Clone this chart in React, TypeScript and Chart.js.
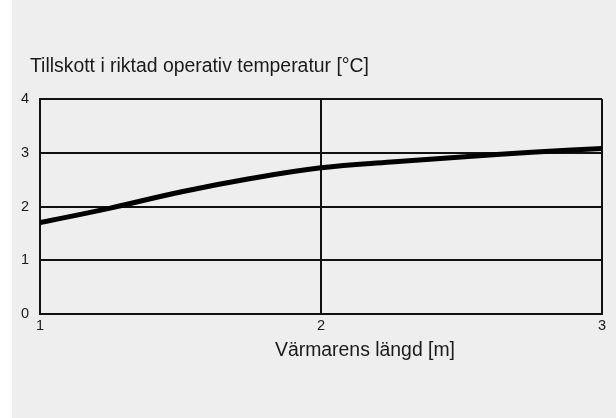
import React, { useEffect, useRef } from "react";
import { Chart, registerables } from "chart.js";

Chart.register(...registerables);

const chartTitle = "Tillskott i riktad operativ temperatur [°C]";
const xAxisTitle = "Värmarens längd [m]";
const lengths = [1, 1.25, 1.5, 1.75, 2, 2.25, 2.5, 2.75, 3];
const tempRise = [1.7, 1.97, 2.27, 2.52, 2.72, 2.83, 2.92, 3.01, 3.08];

const FONT = "'Liberation Sans', Arial, Helvetica, sans-serif";

const titlesPlugin = {
  id: "customTitles",
  afterDraw(chart: any) {
    const { ctx } = chart;
    ctx.save();
    ctx.fillStyle = "#1a1a1a";
    ctx.font = `19.4px ${FONT}`;
    ctx.textBaseline = "alphabetic";
    ctx.textAlign = "left";
    ctx.fillText(chartTitle, 18, 72);
    ctx.textAlign = "center";
    ctx.fillText(xAxisTitle, 353, 356);
    ctx.restore();
  },
};

export default function App() {
  const ref = useRef<HTMLCanvasElement>(null);
  useEffect(() => {
    if (!ref.current) return;
    const chart = new Chart(ref.current, {
      type: "line",
      data: {
        datasets: [
          {
            data: lengths.map((x, i) => ({ x, y: tempRise[i] })),
            borderColor: "#000",
            borderWidth: 5,
            pointRadius: 0,
            tension: 0.4,
            fill: false,
          },
        ],
      },
      options: {
        animation: false,
        responsive: false,
        layout: { padding: { top: 99, left: 0, right: 14, bottom: 74 } },
        plugins: { legend: { display: false }, title: { display: false }, tooltip: { enabled: false } },
        scales: {
          x: {
            type: "linear",
            min: 1,
            max: 3,
            afterFit: (scale: any) => {
              scale.height = 30;
            },
            ticks: { stepSize: 1, color: "#1a1a1a", font: { family: FONT, size: 14.5 }, padding: 3, maxRotation: 0 },
            grid: { color: "#111", lineWidth: 2, drawTicks: false },
            border: { color: "#111", width: 2 },
          },
          y: {
            min: 0,
            max: 4,
            afterFit: (scale: any) => {
              scale.width = 28;
            },
            ticks: { stepSize: 1, color: "#1a1a1a", font: { family: FONT, size: 14.5 }, padding: 11 },
            grid: { color: "#111", lineWidth: 2, drawTicks: false },
            border: { color: "#111", width: 2 },
          },
        },
      },
      plugins: [titlesPlugin],
    });
    return () => chart.destroy();
  }, []);
  return (
    <div style={{ position: "fixed", left: 0, top: 0, width: 616, height: 418, background: "#fff" }}>
      <div style={{ position: "absolute", left: 12, top: 0, width: 604, height: 418, background: "#eeeeee" }}>
        <canvas ref={ref} width={604} height={418} style={{ display: "block" }} />
      </div>
    </div>
  );
}
